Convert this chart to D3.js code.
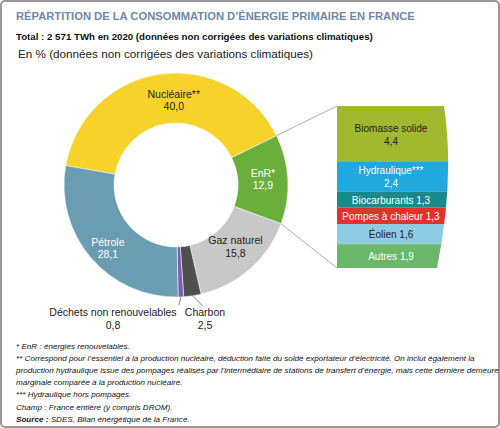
<!DOCTYPE html><html><head><meta charset="utf-8"><script src="https://cdn.jsdelivr.net/npm/d3@7"></script>
<style>body{margin:0;background:#fff;font-family:"Liberation Sans",Arial,sans-serif}</style></head><body>
<svg id="c" width="500" height="428"></svg>
<script>
const categories=["Nucléaire**","EnR*","Gaz naturel","Charbon","Déchets non renouvelables","Pétrole"];
const values=[40.0,12.9,15.8,2.5,0.8,28.1];
const colors=["#f6d22a","#6aae3c","#c8c8c8","#4f4f4f","#7b5fa8","#6a9cb2"];
const enrCategories=["Biomasse solide","Hydraulique***","Biocarburants","Pompes à chaleur","Éolien","Autres"];
const enrValues=[4.4,2.4,1.3,1.3,1.6,1.9];
const enrColors=["#a2b92f","#20a8df","#198a8c","#e3322b","#8ecbe5","#6cb86a"];
const enrText=["#222","#fff","#fff","#fff","#222","#fff"];
const fmt=v=>d3.format(".1f")(v).replace(".",",");
const svg=d3.select("#c");
svg.append("rect").attr("x",1).attr("y",1).attr("width",498).attr("height",426).attr("rx",4).attr("fill","#fff").attr("stroke","#999").attr("stroke-width",2);
svg.append("text").attr("x",16).attr("y",20).attr("font-size",11.2).attr("font-weight","bold").attr("fill","#6f87a8").text("RÉPARTITION DE LA CONSOMMATION D’ÉNERGIE PRIMAIRE EN FRANCE");
svg.append("text").attr("x",16).attr("y",40).attr("font-size",9.7).attr("font-weight","bold").attr("fill","#111").text("Total : 2 571 TWh en 2020 (données non corrigées des variations climatiques)");
svg.append("text").attr("x",18).attr("y",58).attr("font-size",11.7).attr("fill","#222").text("En % (données non corrigées des variations climatiques)");
const cx=176,cy=185,R=112,r=62;
const start=-80*Math.PI/180;
const pie=d3.pie().sort(null).startAngle(start).endAngle(start+2*Math.PI)(values);
const arc=d3.arc().innerRadius(r).outerRadius(R);
const g=svg.append("g").attr("transform",`translate(${cx},${cy})`);
g.selectAll("path").data(pie).join("path").attr("d",arc).attr("fill",(d,i)=>colors[i]).attr("stroke","#fff").attr("stroke-width",0.5);
const bx=337,bw=108,by=106,bh=162;
const y=d3.scaleLinear().domain([0,d3.sum(enrValues)]).range([by,by+bh]);
const cum=enrValues.map((v,i)=>d3.sum(enrValues.slice(0,i)));
const e=pie[1];
const pt=a=>[cx+R*Math.sin(a),cy-R*Math.cos(a)];
const p1=pt(e.startAngle),p2=pt(e.endAngle);
svg.append("line").attr("x1",p1[0]).attr("y1",p1[1]).attr("x2",bx).attr("y2",by).attr("stroke","#999").attr("stroke-width",0.8);
svg.append("line").attr("x1",p2[0]).attr("y1",p2[1]).attr("x2",bx).attr("y2",by+bh).attr("stroke","#999").attr("stroke-width",0.8);
svg.append("clipPath").attr("id","cl").append("path").attr("d",`M${bx},${by} L${bx+107},${by} Q${bx+118},${by+bh*0.45} ${bx+100},${by+bh} L${bx},${by+bh} Z`);
const bg=svg.append("g").attr("clip-path","url(#cl)");
bg.selectAll("rect").data(enrValues).join("rect").attr("x",bx).attr("width",bw+20).attr("y",(d,i)=>y(cum[i])).attr("height",d=>y(d)-y(0)).attr("fill",(d,i)=>enrColors[i]);
enrValues.forEach((v,i)=>{
  const y0=y(cum[i]),y1=y(cum[i]+v),m=(y0+y1)/2,t=svg.append("text").attr("x",bx+54).attr("text-anchor","middle").attr("font-size",10).attr("fill",enrText[i]);
  if(i<2){t.append("tspan").attr("x",bx+54).attr("y",m-2).text(enrCategories[i]);t.append("tspan").attr("x",bx+54).attr("y",m+11).text(fmt(v));}
  else t.attr("y",m+4).text(enrCategories[i]+" "+fmt(v));
});
function lab(x,yy,lines,col){const t=svg.append("text").attr("text-anchor","middle").attr("font-size",10.5).attr("fill",col||"#222");lines.forEach((l,k)=>t.append("tspan").attr("x",x).attr("y",yy+k*12.5).text(l));}
const c0=arc.centroid(pie[0]);lab(cx+c0[0]+10,cy+c0[1]-1,[categories[0],fmt(values[0])]);
const c1=arc.centroid(pie[1]);lab(cx+c1[0],cy+c1[1]-4,[categories[1],fmt(values[1])],"#fff");
const c2=arc.centroid(pie[2]);lab(cx+c2[0]+2,cy+c2[1]-6,[categories[2],fmt(values[2])]);
const c5=arc.centroid(pie[5]);lab(cx+c5[0]-2,cy+c5[1]+4,["Pétrole",fmt(values[5])],"#fff");
const mid=d=>(d.startAngle+d.endAngle)/2;
const q3=pt(mid(pie[3])),q4=pt(mid(pie[4]));
svg.append("line").attr("x1",q3[0]).attr("y1",q3[1]).attr("x2",q3[0]+10).attr("y2",q3[1]+10).attr("stroke","#666").attr("stroke-width",0.8);
svg.append("line").attr("x1",q4[0]).attr("y1",q4[1]).attr("x2",q4[0]-2).attr("y2",q4[1]+8).attr("stroke","#666").attr("stroke-width",0.8);
lab(205,316,[categories[3],fmt(values[3])]);
lab(113,316,[categories[4],fmt(values[4])]);
const notes=[["","* EnR : énergies renouvelables."],["","** Correspond pour l’essentiel à la production nucléaire, déduction faite du solde exportateur d’électricité. On inclut également la"],["","production hydraulique issue des pompages réalisés par l’intermédiaire de stations de transfert d’énergie, mais cette dernière demeure"],["","marginale comparée à la production nucléaire."],["","*** Hydraulique hors pompages."],["","Champ : France entière (y compris DROM)."],["Source :"," SDES, Bilan énergétique de la France."]];
notes.forEach((n,i)=>{const t=svg.append("text").attr("x",16).attr("y",349+i*12.1).attr("font-size",8.1).attr("font-style","italic").attr("fill","#111");
 if(n[0])t.append("tspan").attr("font-weight","bold").text(n[0]);t.append("tspan").text(n[1]);});
</script></body></html>
